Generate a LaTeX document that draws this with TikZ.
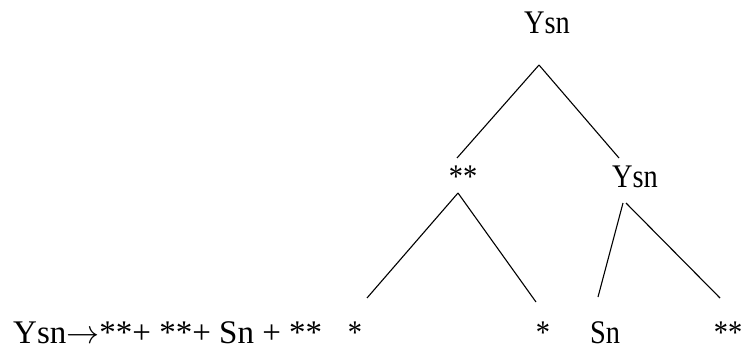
\documentclass[tikz,border=0pt]{standalone}
\usepackage{fontspec}
\setmainfont{Liberation Serif}
\newfontfamily\treefont{Liberation Serif}[FakeStretch=0.86]
\begin{document}
\begin{tikzpicture}[x=1pt,y=-1pt,
  lbl/.style={inner sep=0pt,anchor=base,font=\treefont\fontsize{33}{33}\selectfont},
  eq/.style={inner sep=0pt,anchor=base west,font=\fontsize{33}{33}\selectfont},
  edge/.style={draw=black,line width=1.1pt}]
\useasboundingbox (0,0) rectangle (747,356);
\node[lbl] (top) at (547,33) {Ysn};
\node[lbl] (ss) at (463,187) {**};
\node[lbl] (ysn) at (635,187) {Ysn};
\node[lbl] (l1) at (355,343) {*};
\node[lbl] (l2) at (543,343) {*};
\node[lbl] (l3) at (605,343) {Sn};
\node[lbl] (l4) at (728,343) {**};
\node[eq] (rule) at (13,343) {Ysn\scalebox{1.33}{$\rightarrow$}**+ **+ Sn + **};
\coordinate (topb) at (539,65);
\coordinate (sst) at (457,158);
\coordinate (ysnt) at (619,158);
\coordinate (ssb) at (458,193);
\coordinate (l1t) at (367,298);
\coordinate (l2t) at (536,302);
\coordinate (ysnbl) at (623,203);
\coordinate (ysnbr) at (626,203);
\coordinate (l3t) at (598,297);
\coordinate (l4t) at (720,298);
\draw[edge] (topb) -- (sst);
\draw[edge] (topb) -- (ysnt);
\draw[edge] (ssb) -- (l1t);
\draw[edge] (ssb) -- (l2t);
\draw[edge] (ysnbl) -- (l3t);
\draw[edge] (ysnbr) -- (l4t);
\end{tikzpicture}
\end{document}
